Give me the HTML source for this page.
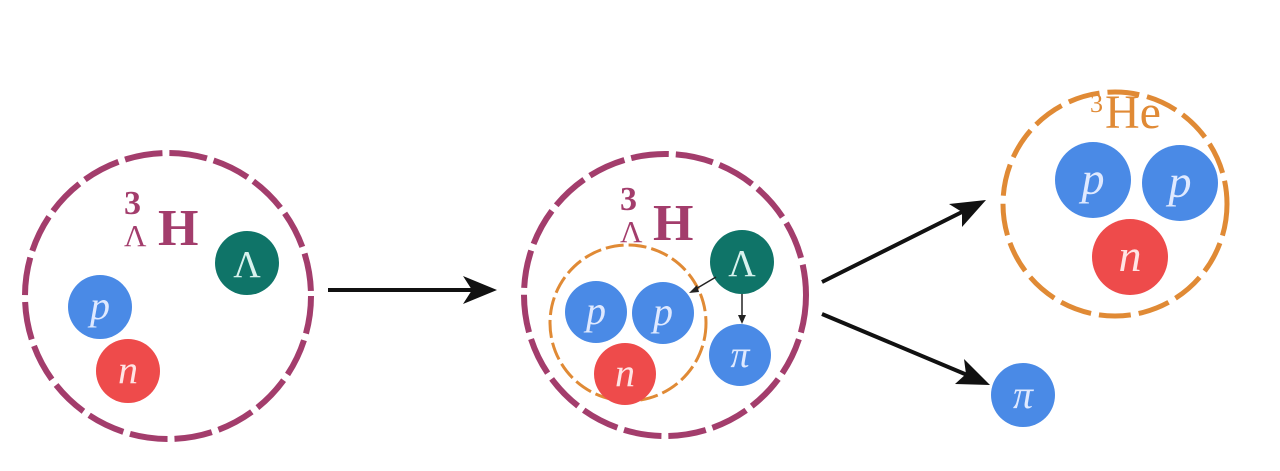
<!DOCTYPE html>
<html><head><meta charset="utf-8"><style>
html,body{margin:0;padding:0;background:#fff;}
svg{display:block;}
text{font-family:"Liberation Serif",serif;}
</style></head><body>
<svg width="1280" height="471" viewBox="0 0 1280 471" xmlns="http://www.w3.org/2000/svg">
<!-- left nucleus -->
<circle cx="168" cy="296" r="143" fill="none" stroke="#a33d6c" stroke-width="6" stroke-dasharray="38 7"/>
<text x="124" y="214" font-size="34" fill="#a33d6c" font-weight="bold">3</text>
<text x="124" y="246" font-size="31" fill="#a33d6c">Λ</text>
<text x="158" y="245" font-size="52" fill="#a33d6c" font-weight="bold">H</text>
<circle cx="100" cy="307" r="32" fill="#4a8ae6"/>
<text x="100" y="319" font-size="40" font-style="italic" fill="#dfe9ff" text-anchor="middle">p</text>
<circle cx="128" cy="371" r="32" fill="#ee4b4b"/>
<text x="128" y="383" font-size="40" font-style="italic" fill="#ffe4e4" text-anchor="middle">n</text>
<circle cx="247" cy="263" r="32" fill="#0f7468"/>
<text x="247" y="277" font-size="38" fill="#d8f2ee" text-anchor="middle">Λ</text>

<!-- arrow 1 -->
<line x1="328" y1="290" x2="478" y2="290" stroke="#111" stroke-width="4"/>
<path d="M497,290 L463,276 L472,290 L463,304 Z" fill="#111"/>

<!-- middle nucleus -->
<circle cx="665" cy="295" r="141" fill="none" stroke="#a33d6c" stroke-width="6" stroke-dasharray="38 7"/>
<circle cx="628" cy="323" r="78" fill="none" stroke="#e08a35" stroke-width="3" stroke-dasharray="18 5"/>
<text x="620" y="210" font-size="34" fill="#a33d6c" font-weight="bold">3</text>
<text x="620" y="242" font-size="31" fill="#a33d6c">Λ</text>
<text x="653" y="240" font-size="52" fill="#a33d6c" font-weight="bold">H</text>
<circle cx="596" cy="312" r="31" fill="#4a8ae6"/>
<text x="596" y="324" font-size="40" font-style="italic" fill="#dfe9ff" text-anchor="middle">p</text>
<circle cx="663" cy="313" r="31" fill="#4a8ae6"/>
<text x="663" y="325" font-size="40" font-style="italic" fill="#dfe9ff" text-anchor="middle">p</text>
<circle cx="625" cy="374" r="31" fill="#ee4b4b"/>
<text x="625" y="386" font-size="40" font-style="italic" fill="#ffe4e4" text-anchor="middle">n</text>
<circle cx="742" cy="262" r="32" fill="#0f7468"/>
<text x="742" y="276" font-size="38" fill="#d8f2ee" text-anchor="middle">Λ</text>
<circle cx="740" cy="355" r="31" fill="#4a8ae6"/>
<text x="740" y="367" font-size="38" font-style="italic" fill="#dfe9ff" text-anchor="middle">π</text>
<line x1="716" y1="277" x2="694" y2="290" stroke="#222" stroke-width="1.5"/>
<path d="M689,293 L697,285 L699,292 Z" fill="#222"/>
<line x1="742" y1="294" x2="742" y2="318" stroke="#222" stroke-width="1.5"/>
<path d="M742,324 L738,315 L746,315 Z" fill="#222"/>

<!-- arrows out -->
<line x1="822" y1="282" x2="968" y2="209" stroke="#111" stroke-width="4"/>
<path d="M986,200 L949,204 L962,212 L962,227 Z" fill="#111"/>
<line x1="822" y1="314" x2="972" y2="377" stroke="#111" stroke-width="4"/>
<path d="M990,385 L964,359 L966,374 L955,384 Z" fill="#111"/>

<!-- right He-3 -->
<circle cx="1115" cy="204" r="112" fill="none" stroke="#e08a35" stroke-width="5" stroke-dasharray="32 8"/>
<text x="1090" y="112" font-size="26" fill="#e08a35">3</text>
<text x="1105" y="128" font-size="48" fill="#e08a35">He</text>
<circle cx="1093" cy="180" r="38" fill="#4a8ae6"/>
<text x="1093" y="194" font-size="46" font-style="italic" fill="#dfe9ff" text-anchor="middle">p</text>
<circle cx="1180" cy="183" r="38" fill="#4a8ae6"/>
<text x="1180" y="197" font-size="46" font-style="italic" fill="#dfe9ff" text-anchor="middle">p</text>
<circle cx="1130" cy="257" r="38" fill="#ee4b4b"/>
<text x="1130" y="271" font-size="46" font-style="italic" fill="#ffe4e4" text-anchor="middle">n</text>
<circle cx="1023" cy="395" r="32" fill="#4a8ae6"/>
<text x="1023" y="408" font-size="40" font-style="italic" fill="#dfe9ff" text-anchor="middle">π</text>
</svg>
</body></html>
